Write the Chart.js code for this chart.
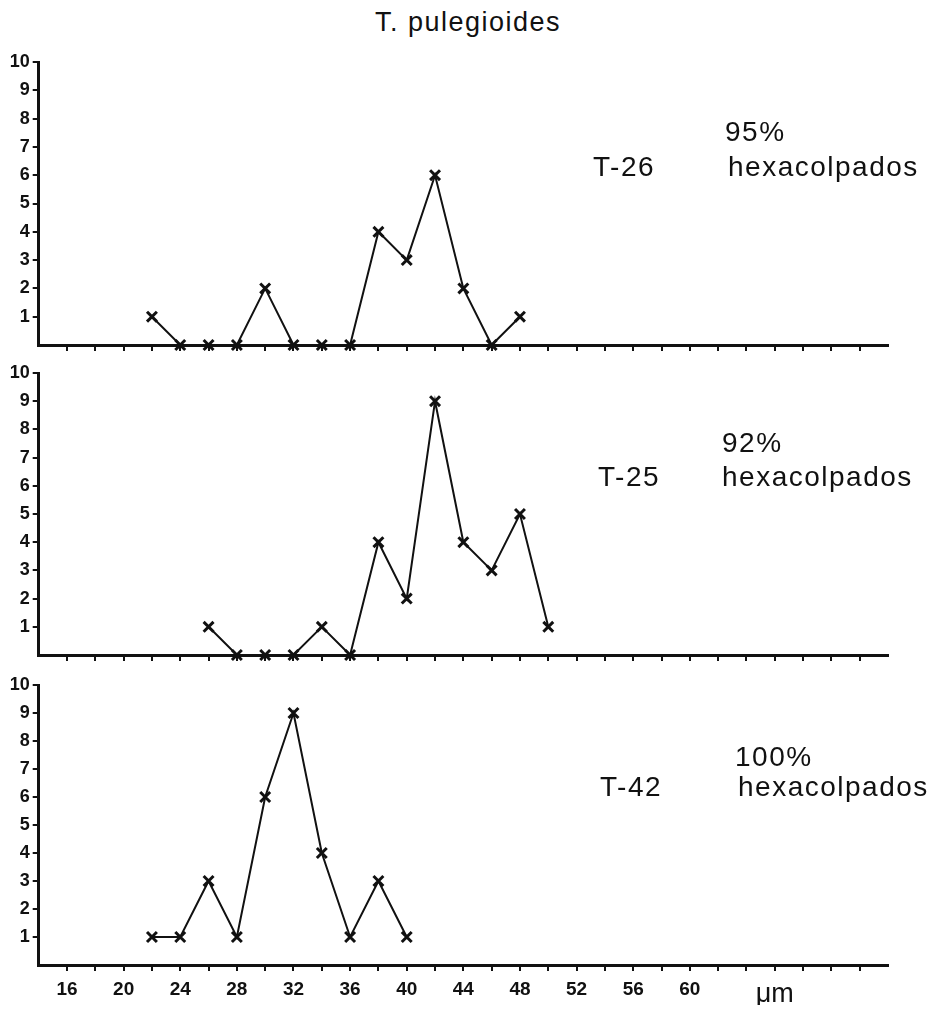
<!DOCTYPE html>
<html lang="es">
<head>
  <meta charset="UTF-8">
  <title>T. pulegioides</title>
  <script src="https://cdn.jsdelivr.net/npm/chart.js"></script>
  <style>
    body { margin: 0; background: #fff; }
    #page { position: relative; width: 930px; height: 1012px; overflow: hidden; }
    canvas { position: absolute; left: 0; }
    .txt {
      position: absolute;
      font-family: "Liberation Sans", Arial, sans-serif;
      font-size: 28px;
      line-height: 28px;
      letter-spacing: 1.5px;
      color: #111;
      white-space: nowrap;
    }
    #title { font-size: 27px; line-height: 27px; left: 0; width: 936px; text-align: center; top: 9px; }
  </style>
</head>
<body>
  <div id="page">
    <div id="title" class="txt"></div>
    <canvas id="c1" width="930" height="360" style="top:0px"></canvas>
    <canvas id="c2" width="930" height="315" style="top:355px"></canvas>
    <canvas id="c3" width="930" height="342" style="top:670px"></canvas>
  </div>

  <script>
    // 値
    const chartTitle = 'T. pulegioides';

    const sizesT26 = [22, 24, 26, 28, 30, 32, 34, 36, 38, 40, 42, 44, 46, 48];
    const countsT26 = [1, 0, 0, 0, 2, 0, 0, 0, 4, 3, 6, 2, 0, 1];

    const sizesT25 = [26, 28, 30, 32, 34, 36, 38, 40, 42, 44, 46, 48, 50];
    const countsT25 = [1, 0, 0, 0, 1, 0, 4, 2, 9, 4, 3, 5, 1];

    const sizesT42 = [22, 24, 26, 28, 30, 32, 34, 36, 38, 40];
    const countsT42 = [1, 1, 3, 1, 6, 9, 4, 1, 3, 1];

    const sampleNames = ['T-26', 'T-25', 'T-42'];
    const percentLabels = ['95%', '92%', '100%'];
    const typeLabel = 'hexacolpados';

    const xTickLabels = [16, 20, 24, 28, 32, 36, 40, 44, 48, 52, 56, 60];
    const unitLabel = 'μm';
    const unitTick = 66;

    // 注記テキスト（位置はページ座標）
    document.getElementById('title').textContent = chartTitle;
    const notePos = [
      { pct: [725, 142], name: [593, 177], type: [728, 177] },
      { pct: [722, 453], name: [598, 487], type: [722, 487] },
      { pct: [735, 767], name: [600, 797], type: [738, 797] }
    ];
    function addText(str, left, baseline) {
      const d = document.createElement('div');
      d.className = 'txt';
      d.textContent = str;
      d.style.left = left + 'px';
      d.style.top = (baseline - 24) + 'px';
      document.getElementById('page').appendChild(d);
    }
    notePos.forEach((p, i) => {
      addText(percentLabels[i], p.pct[0], p.pct[1]);
      addText(sampleNames[i], p.name[0], p.name[1]);
      addText(typeLabel, p.type[0], p.type[1]);
    });

    function makePanel(id, sizes, counts, opt) {
      const pts = sizes.map((s, i) => ({ x: s, y: counts[i] }));
      return new Chart(document.getElementById(id), {
        type: 'line',
        data: {
          datasets: [{
            data: pts,
            borderColor: '#111',
            borderWidth: 2,
            tension: 0,
            pointStyle: 'crossRot',
            pointRadius: 7,
            pointBorderWidth: 3,
            pointBorderColor: '#111',
            clip: false
          }]
        },
        options: {
          responsive: false,
          animation: false,
          layout: { padding: { left: 0, right: 42, top: opt.top, bottom: opt.bottom } },
          plugins: { legend: { display: false }, tooltip: { enabled: false } },
          scales: {
            x: {
              type: 'linear',
              min: 14,
              max: 74,
              afterFit: s => { s.height = opt.xHeight; },
              border: { display: true, color: '#111', width: 3 },
              grid: {
                drawOnChartArea: false,
                drawTicks: true,
                tickLength: 6,
                lineWidth: 2,
                color: c => (c.tick && (c.tick.value === 14 || c.tick.value === 74)) ? 'rgba(0,0,0,0)' : '#111'
              },
              ticks: {
                display: opt.showX,
                stepSize: 2,
                autoSkip: false,
                maxRotation: 0,
                padding: 7,
                color: '#111',
                font: c => (c.tick && c.tick.value === unitTick)
                  ? { family: 'Liberation Sans', size: 27, weight: 'normal' }
                  : { family: 'Liberation Sans', size: 19, weight: 'bold' },
                callback: v => {
                  if (v === unitTick) return unitLabel;
                  return xTickLabels.includes(v) ? String(v) : '';
                }
              }
            },
            y: {
              min: 0,
              max: 10,
              afterFit: s => { s.width = 38.7; },
              border: { display: true, color: '#111', width: 3 },
              grid: {
                drawOnChartArea: false,
                drawTicks: true,
                tickLength: 6,
                lineWidth: 2,
                color: c => (c.tick && c.tick.value === 0) ? 'rgba(0,0,0,0)' : '#111'
              },
              ticks: {
                stepSize: 1,
                padding: 3,
                color: '#111',
                font: { family: 'Liberation Sans', size: 18, weight: 'bold' },
                callback: v => v === 0 ? '' : String(v)
              }
            }
          }
        }
      });
    }

    makePanel('c1', sizesT26, countsT26, { top: 62, bottom: 0, xHeight: 15, showX: false });
    makePanel('c2', sizesT25, countsT25, { top: 18, bottom: 0, xHeight: 15, showX: false });
    makePanel('c3', sizesT42, countsT42, { top: 15, bottom: 7, xHeight: 40, showX: true });
  </script>
</body>
</html>
